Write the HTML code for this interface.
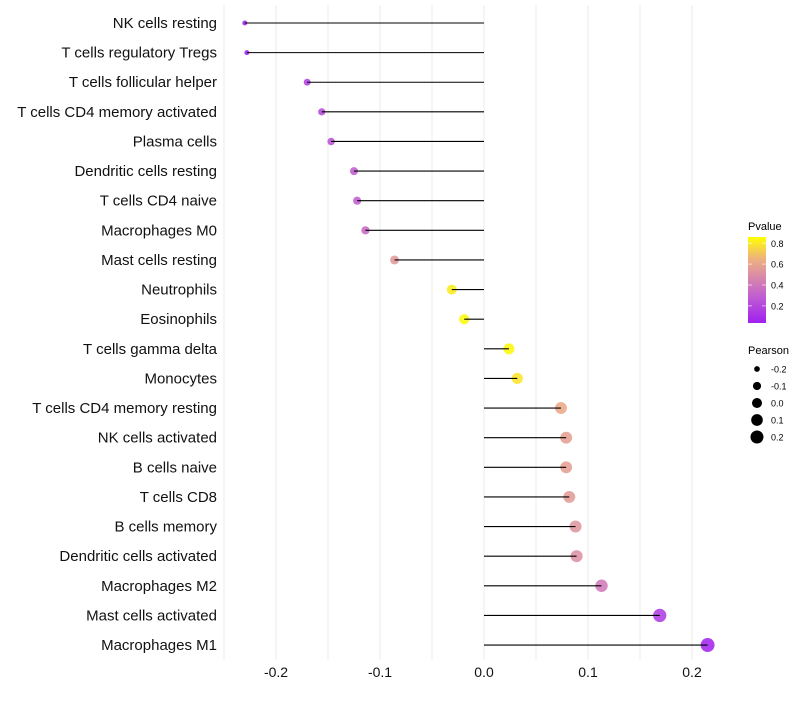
<!DOCTYPE html>
<html><head><meta charset="utf-8"><style>
body{margin:0;background:#fff;font-family:"Liberation Sans",sans-serif}
svg text{font-family:"Liberation Sans",sans-serif}
</style></head><body>
<svg id="c" width="800" height="700">
<defs><linearGradient id="pg" x1="0" y1="1" x2="0" y2="0">
<stop offset="0" stop-color="#A020F0"/><stop offset="0.3" stop-color="#BF5CD2"/><stop offset="0.55" stop-color="#DA8CA8"/><stop offset="0.75" stop-color="#EFB27E"/><stop offset="1" stop-color="#FFFF00"/></linearGradient></defs>
</svg>
<script>
const cells=["NK cells resting","T cells regulatory  Tregs","T cells follicular helper","T cells CD4 memory activated","Plasma cells","Dendritic cells resting","T cells CD4 naive","Macrophages M0","Mast cells resting","Neutrophils","Eosinophils","T cells gamma delta","Monocytes","T cells CD4 memory resting","NK cells activated","B cells naive","T cells CD8","B cells memory","Dendritic cells activated","Macrophages M2","Mast cells activated","Macrophages M1"];
const pearson=[-0.230,-0.228,-0.170,-0.156,-0.147,-0.125,-0.122,-0.114,-0.086,-0.031,-0.019,0.024,0.032,0.074,0.079,0.079,0.082,0.088,0.089,0.113,0.169,0.215];
const pvalue=[0.05,0.05,0.18,0.22,0.25,0.30,0.30,0.35,0.55,0.82,0.85,0.85,0.80,0.62,0.58,0.58,0.57,0.54,0.52,0.42,0.16,0.07];
const xTicks=[-0.2,-0.1,0.0,0.1,0.2];
const xMinor=[-0.25,-0.15,-0.05,0.05,0.15];
const sizeLegend=[-0.2,-0.1,0.0,0.1,0.2];
const colorTicks=[0.2,0.4,0.6,0.8];
const NS="http://www.w3.org/2000/svg",svg=document.getElementById('c');
const x=v=>484+v*1040, y=i=>23+i*29.62;
const stops=[[0,[160,32,240]],[0.3,[191,92,210]],[0.55,[218,140,168]],[0.75,[239,178,126]],[1,[255,255,0]]];
function col(p){let t=Math.max(0,Math.min(1,(p-0.045)/(0.87-0.045)));for(let k=1;k<stops.length;k++){if(t<=stops[k][0]){const a=stops[k-1],b=stops[k],f=(t-a[0])/(b[0]-a[0]);return 'rgb('+a[1].map((c,j)=>Math.round(c+(b[1][j]-c)*f)).join(',')+')';}}return 'rgb(255,255,0)';}
const r=v=>Math.sqrt(Math.max(3,28+95*v));
function mk(t,a,p){const e=document.createElementNS(NS,t);for(const k in a)e.setAttribute(k,a[k]);(p||svg).appendChild(e);return e;}
xMinor.concat(xTicks).forEach(v=>{const l=mk('line',{x1:x(v),x2:x(v),y1:5,y2:660,stroke:'#ebebeb','stroke-width':1});

});
xTicks.forEach(v=>{const t=mk('text',{x:x(v),y:677,'text-anchor':'middle','font-size':14,fill:'#111'});t.textContent=v.toFixed(1);

});
cells.forEach((c,i)=>{
const t=mk('text',{x:217,y:y(i)+5,'text-anchor':'end','font-size':15,fill:'#111'});t.textContent=c;


const d=mk('circle',{cx:x(pearson[i]),cy:y(i),r:r(pearson[i]),fill:col(pvalue[i]),'fill-opacity':0.88});


const l=mk('line',{x1:x(0),x2:x(pearson[i]),y1:y(i),y2:y(i),stroke:'#000','stroke-width':1.1});


});
let t=mk('text',{x:748,y:230,'font-size':11});t.textContent='Pvalue';


const cb=mk('rect',{x:748,y:237,width:18,height:86,fill:'url(#pg)'});


const cy=p=>322-(p-0.045)/(0.87-0.045)*86;
colorTicks.forEach(p=>{const k=mk('text',{x:771,y:cy(p)+3.5,'font-size':9});k.textContent=p.toFixed(1);


mk('line',{x1:748,x2:752,y1:cy(p),y2:cy(p),stroke:'#fff','stroke-opacity':0.6});mk('line',{x1:762,x2:766,y1:cy(p),y2:cy(p),stroke:'#fff','stroke-opacity':0.6});});
t=mk('text',{x:748,y:354,'font-size':11});t.textContent='Pearson';


sizeLegend.forEach((v,i)=>{const yy=369+i*17;const c=mk('circle',{cx:757,cy:yy,r:r(v)*0.95,fill:'#000'});


const k=mk('text',{x:771,y:yy+3.5,'font-size':9});k.textContent=v.toFixed(1);

});
</script>
</body></html>
